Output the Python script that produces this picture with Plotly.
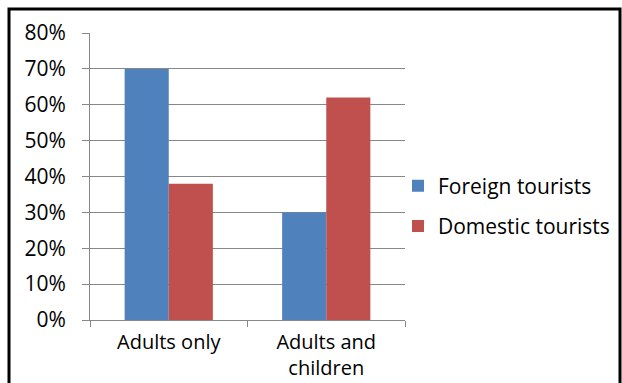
import plotly.graph_objects as go

categories = ["Adults only", "Adults and<br>children"]
foreign = [70, 30]
domestic = [38, 62]
y_ticks = [0, 10, 20, 30, 40, 50, 60, 70, 80]
y_tick_labels = [f"{v}%" for v in y_ticks]

FONT = "Open Sans, Liberation Sans, Arial"
L, R, T, B = 90, 405, 33, 320
W, H = 622, 383

def px(x):
    return (x - L) / (R - L)

def py(y):
    return (B - y) / (B - T)

fig = go.Figure()
fig.add_trace(go.Bar(x=categories, y=foreign, name="Foreign tourists",
                     marker=dict(color="#4F81BD", line=dict(width=0)),
                     legendgroup="a"))
fig.add_trace(go.Bar(x=categories, y=domestic, name="Domestic tourists",
                     marker=dict(color="#C0504D", line=dict(width=0)),
                     legendgroup="b"))

fig.update_layout(
    width=W, height=H,
    margin=dict(l=L, r=W - R, t=T, b=H - B, autoexpand=False),
    paper_bgcolor="white", plot_bgcolor="white",
    barmode="group", bargap=0.44, bargroupgap=0,
    font=dict(family=FONT, size=21, color="#000000"),
    showlegend=True,
    legend=dict(x=px(398), y=py(206), xanchor="left", yanchor="middle",
                font=dict(size=21), tracegroupgap=10,
                bgcolor="rgba(0,0,0,0)"),
    xaxis=dict(showline=True, linecolor="#878787", linewidth=1,
               ticks="outside", tickson="boundaries", ticklen=6,
               tickcolor="#878787", showgrid=False, automargin=False,
               tickfont=dict(size=20), ticklabelstandoff=4),
    yaxis=dict(range=[0, 80], tickvals=y_ticks, ticktext=y_tick_labels,
               showline=True, linecolor="#878787", linewidth=1,
               ticks="outside", ticklen=7, tickcolor="#878787",
               showgrid=True, gridcolor="#878787", gridwidth=1,
               zeroline=False, automargin=False,
               tickfont=dict(size=21), ticklabelstandoff=12),
    shapes=[dict(type="rect", xref="paper", yref="paper",
                 x0=px(9), x1=px(620), y0=py(395), y1=py(9),
                 line=dict(color="black", width=3), fillcolor="rgba(0,0,0,0)",
                 layer="above")],
)

fig.write_html("out.html")
